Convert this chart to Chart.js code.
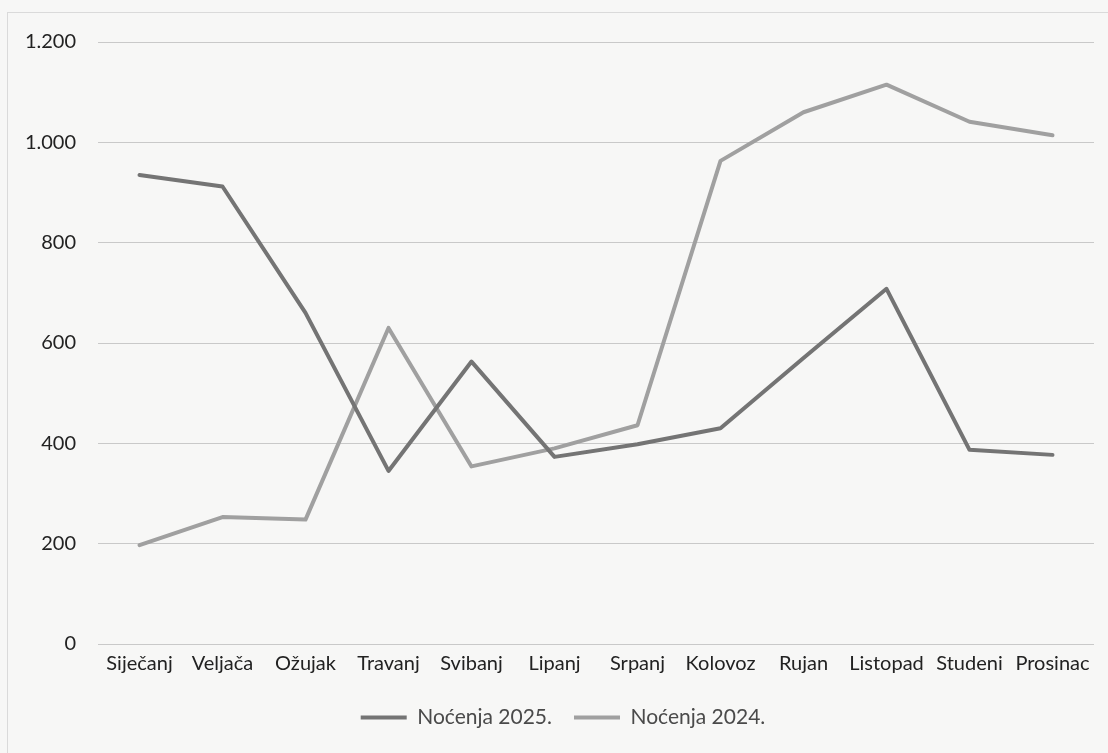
<!DOCTYPE html>
<html>
<head>
<meta charset="utf-8">
<script src="https://cdn.jsdelivr.net/npm/chart.js@4.4.1/dist/chart.umd.min.js"></script>
<style>
  html, body { margin: 0; padding: 0; background: #f7f7f6; }
  #wrap { width: 1108px; height: 753px; position: relative; }
</style>
</head>
<body>
<div id="wrap"><canvas id="c" width="1108" height="753"></canvas></div>
<script>
const categories = ['Siječanj','Veljača','Ožujak','Travanj','Svibanj','Lipanj','Srpanj','Kolovoz','Rujan','Listopad','Studeni','Prosinac'];
const nocenja2025 = [935, 912, 660, 345, 563, 373, 398, 430, 570, 708, 387, 377];
const nocenja2024 = [197, 253, 248, 630, 354, 390, 436, 963, 1060, 1115, 1041, 1014];
const yTicks = [0, 200, 400, 600, 800, 1000, 1200];
const seriesNames = ['Noćenja 2025.', 'Noćenja 2024.'];

const fontFamily = 'Lato, "Open Sans", sans-serif';

const frame = {
  id: 'frame',
  beforeDraw(chart) {
    const ctx = chart.ctx;
    ctx.save();
    ctx.fillStyle = '#f7f7f6';
    ctx.fillRect(0, 0, chart.width, chart.height);
    ctx.strokeStyle = '#dadada';
    ctx.lineWidth = 1;
    ctx.strokeRect(7.5, 12.5, chart.width + 10, chart.height + 10);
    ctx.restore();
  },
  afterLayout(chart) {
    if (chart.legend) { chart.legend.left += 32; }
  }
};

new Chart(document.getElementById('c'), {
  type: 'line',
  data: {
    labels: categories,
    datasets: [
      {
        label: seriesNames[0],
        data: nocenja2025,
        borderColor: '#747474',
        backgroundColor: '#747474',
        borderWidth: 4,
        pointRadius: 0,
        tension: 0,
        borderJoinStyle: 'round',
        borderCapStyle: 'round'
      },
      {
        label: seriesNames[1],
        data: nocenja2024,
        borderColor: '#a0a0a0',
        backgroundColor: '#a0a0a0',
        borderWidth: 4,
        pointRadius: 0,
        tension: 0,
        borderJoinStyle: 'round',
        borderCapStyle: 'round'
      }
    ]
  },
  options: {
    responsive: false,
    animation: false,
    layout: { padding: { left: 0, right: 14, top: 42, bottom: 15 } },
    plugins: {
      tooltip: { enabled: false },
      legend: {
        position: 'bottom',
        labels: {
          boxWidth: 46,
          boxHeight: 4,
          padding: 22,
          color: '#4a4a4a',
          font: { family: fontFamily, size: 21 },
          generateLabels(chart) {
            const items = Chart.defaults.plugins.legend.labels.generateLabels(chart);
            items.forEach(it => { it.lineWidth = 0; });
            return items;
          }
        }
      }
    },
    scales: {
      x: {
        offset: true,
        grid: { display: false },
        border: { display: false },
        ticks: {
          color: '#222222',
          font: { family: fontFamily, size: 20 },
          maxRotation: 0,
          autoSkip: false,
          padding: 0
        },
        afterFit(scale) { scale.height = 41; }
      },
      y: {
        min: 0,
        max: 1200,
        afterBuildTicks(scale) { scale.ticks = yTicks.map(v => ({ value: v })); },
        grid: { color: '#c9c9c9', lineWidth: 1, drawTicks: false },
        border: { display: false },
        ticks: {
          color: '#222222',
          font: { family: fontFamily, size: 20 },
          padding: 22,
          callback(v) { return v.toLocaleString('de-DE'); }
        },
        afterFit(scale) { scale.width = 98; }
      }
    }
  },
  plugins: [frame]
});
</script>
</body>
</html>
